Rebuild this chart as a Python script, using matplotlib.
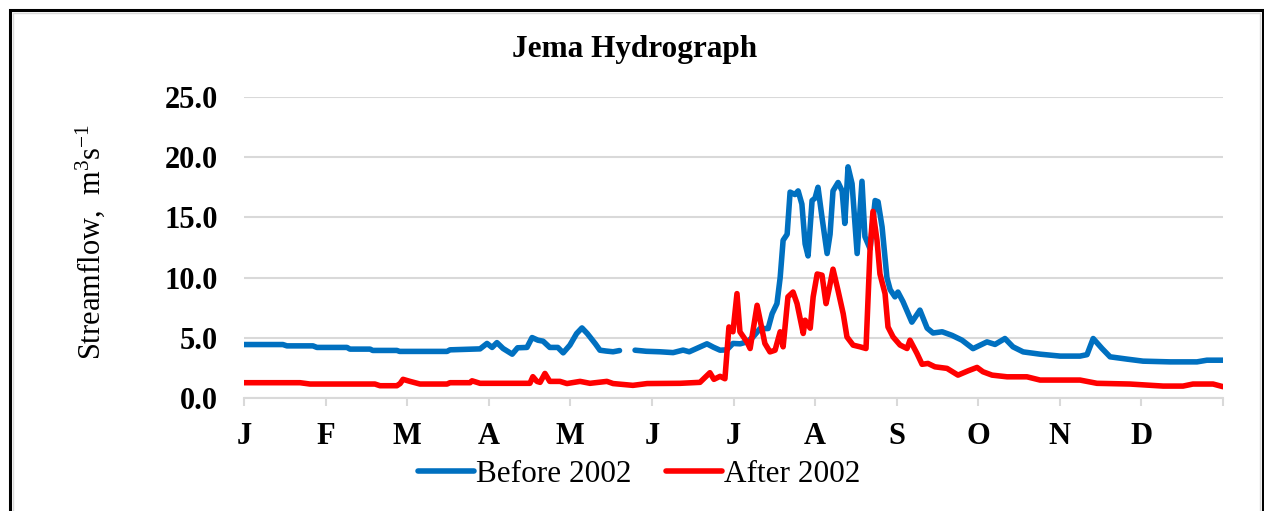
import numpy as np
import matplotlib
matplotlib.use("Agg")
import matplotlib.pyplot as plt
from matplotlib.patches import Rectangle

plt.rcParams['font.family'] = ['Liberation Serif', 'DejaVu Serif']

before_day = [0, 14.5, 16, 25.7, 27.2, 38.4, 39.5, 47, 48, 57, 58, 75.7, 76.8, 88,
              90.6, 92.5, 94.3, 96.6, 100, 102, 105.5, 107.4, 109.6, 111.5, 114, 117,
              119, 121.5, 124, 126, 128, 131, 132.7, 135, 137.6, 140, 142.5, 145.8, 150,
              155, 160, 163.7, 166, 172.6, 175, 177.5, 180, 182.3, 185, 187.5, 189.8,
              192.4, 195.4, 196.9, 198.7, 199.9, 201, 202.5, 203.6, 205.4, 206.6, 208,
              209.2, 210.3, 211.8, 212.9, 214, 215.5, 217.4, 218.5, 219.6, 221.5, 223,
              224, 225.2, 226.7, 228.6, 230.4, 231.5, 233.4, 235.3, 236.4, 237.9, 239.7,
              240.9, 242.7, 243.8, 245.7, 249, 252, 254.7, 256.9, 260.3, 264, 267.7,
              271.8, 277, 280, 283.7, 286.7, 290.5, 296.8, 304.3, 311.7, 314.3, 316.6,
              319.9, 322.9, 329.2, 335.2, 345.3, 355.3, 359, 365]
before_flow = [4.44, 4.44, 4.33, 4.33, 4.2, 4.2, 4.06, 4.06, 3.95, 3.95, 3.87, 3.87, 4.0, 4.08,
               4.53, 4.2, 4.6, 4.11, 3.64, 4.17, 4.2, 5.02, 4.8, 4.72, 4.2, 4.2,
               3.75, 4.39, 5.35, 5.82, 5.35, 4.5, 3.97, 3.9, 3.84, 3.94, np.nan, 3.97, 3.88,
               3.84, 3.77, 3.98, 3.84, 4.5, 4.22, 3.97, 4.0, 4.53, 4.5, 4.66, 5.07,
               5.77, 5.77, 7.0, 7.84, 10.0, 13.1, 13.6, 17.1, 16.9, 17.2, 16.1,
               12.8, 11.8, 16.4, 16.6, 17.5, 15.0, 12.0, 13.6, 17.2, 17.9, 17.2,
               14.5, 19.2, 17.8, 12.0, 18.0, 13.4, 12.4, 16.4, 16.3, 14.2, 10.0,
               9.0, 8.4, 8.8, 8.0, 6.3, 7.3, 5.8, 5.4, 5.5, 5.2, 4.8,
               4.1, 4.66, 4.45, 4.94, 4.25, 3.83, 3.64, 3.48, 3.48, 3.6, 4.94,
               4.11, 3.42, 3.23, 3.06, 3.0, 3.0, 3.14, 3.14]

after_day = [0, 20.9, 24.6, 48.8, 50.7, 57, 58.2, 59.3, 61.9, 65.6, 75.7, 76.8, 84.3, 85,
             88, 106.6, 107.7, 109.2, 110.4, 112.2, 114, 117.8, 120.4, 125.3, 129, 135.3,
             137.6, 145, 150.3, 162.6, 170, 173.7, 175.2, 177.5, 179.3, 180.8, 182.3,
             183.8, 184.9, 187.5, 188.7, 191.3, 194.2, 196.1, 198, 199.9, 201, 202.8,
             204.7, 206.2, 208.5, 209.2, 211.1, 212.2, 213.7, 215.5, 217, 218.1, 219.6,
             221.5, 223.4, 224.8, 227.1, 229.7, 231.9, 233.4, 234.5, 236, 237.1, 239,
             240.1, 242, 244.6, 247.2, 248.3, 250.9, 252.8, 255, 257.6, 262.1, 266.2,
             270, 273.3, 275.5, 278.9, 284.5, 291.9, 296.8, 311.7, 318, 330.3, 342.7,
             350.1, 353.8, 361.3, 365]
after_flow = [1.27, 1.27, 1.16, 1.16, 1.02, 1.02, 1.2, 1.55, 1.38, 1.16, 1.16, 1.27, 1.27, 1.43,
              1.22, 1.22, 1.77, 1.38, 1.3, 2.04, 1.38, 1.38, 1.2, 1.38, 1.22, 1.38,
              1.2, 1.05, 1.2, 1.22, 1.3, 2.1, 1.55, 1.8, 1.6, 5.9, 5.5,
              8.67, 5.5, 4.66, 4.11, 7.7, 4.53, 3.83, 3.97, 5.5, 4.25, 8.4,
              8.8, 7.84, 5.36, 6.46, 5.8, 8.4, 10.3, 10.2, 7.84, 9.0, 10.7,
              8.9, 7.0, 5.07, 4.39, 4.25, 4.11, 12.25, 15.5, 13.1, 10.3, 8.67,
              5.9, 5.07, 4.4, 4.11, 4.8, 3.7, 2.8, 2.87, 2.59, 2.46, 1.9,
              2.26, 2.54, 2.18, 1.9, 1.76, 1.76, 1.49, 1.49, 1.22, 1.16, 0.99,
              0.99, 1.16, 1.16, 0.94]

months = ["J", "F", "M", "A", "M", "J", "J", "A", "S", "O", "N", "D"]

W, H = 1264, 511
fig = plt.figure(figsize=(W / 100, H / 100), dpi=100)
ax = fig.add_axes([244 / W, 1 - 398 / H, 979 / W, 301 / H])

grey = "#D9D9D9"
ax.plot(before_day, before_flow, color="#0070C0", lw=4.0, label="Before 2002",
        solid_capstyle="round", solid_joinstyle="round")
ax.plot(after_day, after_flow, color="#FF0000", lw=4.0, label="After 2002",
        solid_capstyle="round", solid_joinstyle="round")

ax.set_xlim(0, 365)
ax.set_ylim(0, 25)
ax.set_yticks(np.arange(0, 26, 5))
ax.set_yticklabels(["%.1f" % v for v in np.arange(0, 26, 5)],
                   fontsize=22, fontweight="bold")
ax.set_xticks(np.arange(13) * 365 / 12)
ax.set_xticklabels(months + [""], fontsize=22, fontweight="bold")
ax.tick_params(axis="y", length=0, pad=19)
ax.tick_params(axis="x", direction="out", length=6, width=1.5, color=grey, pad=11)
ax.grid(axis="y", color=grey, lw=1.5)
ax.set_axisbelow(True)
for s in ["top", "right", "left"]:
    ax.spines[s].set_visible(False)
ax.spines["bottom"].set_color(grey)
ax.spines["bottom"].set_linewidth(1.5)
ax.spines["bottom"].set_zorder(0.5)

fig.text(635 / W, 1 - 49 / H, "Jema Hydrograph", fontsize=22.5, fontweight="bold",
         ha="center", va="center")
fig.text(90 / W, 1 - 242 / H, "Streamflow,  m$\\mathregular{^3}$s$\\mathregular{^{-1}}$",
         fontsize=22, rotation=90, ha="center", va="center")

fig.legend(loc="center", bbox_to_anchor=(639 / W, 1 - 474 / H), ncol=2,
           frameon=False, fontsize=22.5, handlelength=1.8, handletextpad=0.05,
           columnspacing=1.1)

# outer frame of the chart
fig.patches.append(Rectangle((10.5 / W, -0.1), 1252 / W, 1.1 - 10 / H, fill=False,
                             ec="black", lw=2.2, transform=fig.transFigure))
fig.patches.append(Rectangle((13 / W, -0.1), 1247 / W, 1.1 - 13 / H, fill=False,
                             ec=grey, lw=1.0, transform=fig.transFigure))

fig.savefig("out.png", dpi=100)
